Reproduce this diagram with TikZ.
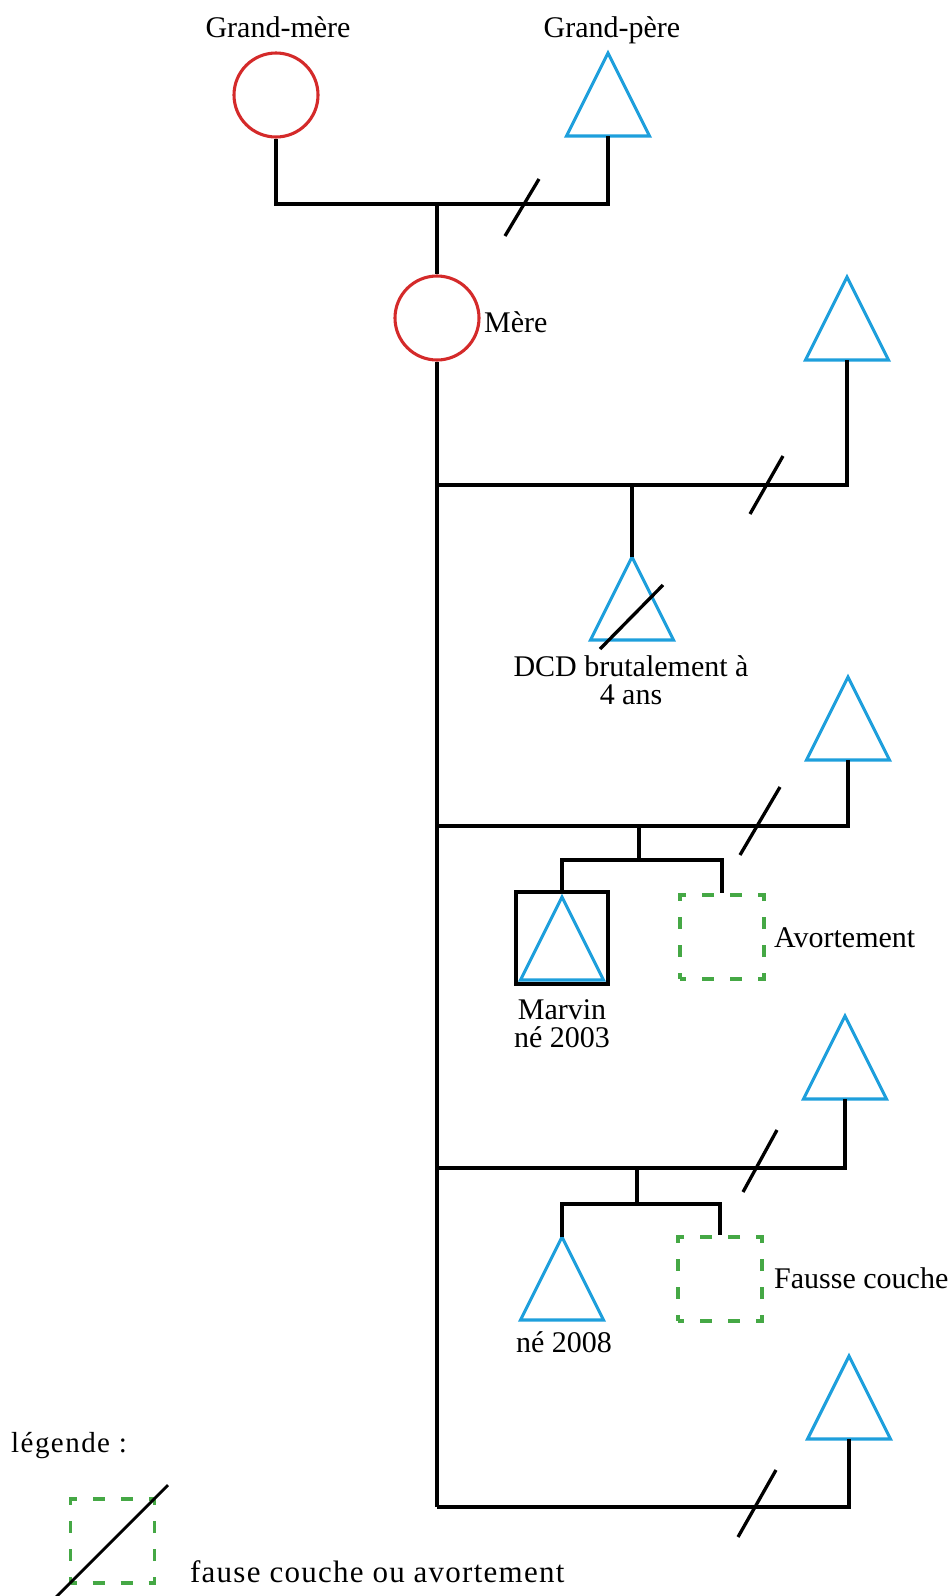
\documentclass[tikz,border=0pt]{standalone}
\usepackage{fontspec}
\setmainfont{Liberation Serif}
\newfontfamily\legendfont[LetterSpace=5]{Liberation Serif}
\newfontfamily\notefont[LetterSpace=4]{Liberation Serif}
\usepackage{xcolor}
\usepackage{tikz}
\usetikzlibrary{shapes.geometric}

\definecolor{cred}{HTML}{D42A2A}
\definecolor{cblue}{HTML}{1E9FDC}
\definecolor{cgreen}{HTML}{45A845}

\tikzset{
  female/.style={draw=cred,circle,line width=3.1pt,minimum size=84pt,inner sep=0pt},
  male/.style={draw=cblue,isosceles triangle,isosceles triangle stretches,shape border rotate=90,
    minimum width=83pt,minimum height=83pt,inner sep=0pt,outer sep=0pt,line width=3.1pt},
  lost/.style={draw=cgreen,rectangle,minimum size=84pt,inner sep=0pt,line width=3.1pt,
    dash pattern=on 12pt off 16pt,dash phase=6pt},
  index/.style={draw,rectangle,minimum size=92pt,inner sep=0pt,line width=3.3pt},
  lbl/.style={font=\fontsize{30}{28}\selectfont,inner sep=0pt},
  legendtxt/.style={font=\legendfont\fontsize{29}{31}\selectfont,inner sep=0pt},
  notetxt/.style={font=\notefont\fontsize{31}{33}\selectfont,inner sep=0pt},
  link/.style={line width=3.3pt}
}

\begin{document}
\begin{tikzpicture}[x=1pt,y=-1pt]
\useasboundingbox (0,0) rectangle (948,1596);
% grand-parents
\node[female] (gm) at (276,95) {};
\node[male,anchor=apex] (gp) at (608,53) {};
\node[lbl,anchor=base] (tgm) at (278,37) {Grand-mère};
\node[lbl,anchor=base] (tgp) at (612,37) {Grand-père};
\coordinate (c0) at (437,204);
\draw[link] (gm.south) |- (c0) -| (gp.lower side);
\draw[link] (505,236) -- (539,179);
% mother
\node[female] (mere) at (437,318) {};
\node[lbl,anchor=base west] (tmere) at (484,332) {Mère};
\draw[link] (c0) -- (mere.north);
\coordinate (m1) at (437,485);
\coordinate (m2) at (437,826);
\coordinate (m3) at (437,1168);
\coordinate (m4) at (437,1507);
\draw[link] (mere.south) -- (m4);
% partner 1
\node[male,anchor=apex] (p1) at (847,277) {};
\draw[link] (m1) -| (p1.lower side);
\draw[link] (750,514) -- (783,456);
\node[male,anchor=apex] (dcd) at (632,557) {};
\draw[link] (dcd.apex |- m1) -- (dcd.apex);
\draw[link] (600,649) -- (663,585);
\node[lbl,align=center,anchor=base] (tdcd) at (631,704) {DCD brutalement à\\4 ans};
% partner 2
\node[male,anchor=apex] (p2) at (848,677) {};
\draw[link] (m2) -| (p2.lower side);
\draw[link] (740,855) -- (780,787);
\coordinate (s2) at (639,860);
\draw[link] (s2 |- m2) -- (s2);
\node[index] (marvin) at (562,938) {};
\node[male,anchor=apex] (marvintri) at (562,897) {};
\node[lost] (avort) at (722,937) {};
\draw[link] (marvin.north) |- (s2) -| (avort.north);
\node[lbl,align=center,anchor=base] (tmarvin) at (562,1047) {Marvin\\né 2003};
\node[lbl,anchor=base west] (tavort) at (774,947) {Avortement};
% partner 3
\node[male,anchor=apex] (p3) at (845,1016) {};
\draw[link] (m3) -| (p3.lower side);
\draw[link] (743,1192) -- (777,1130);
\coordinate (s3) at (637,1204);
\draw[link] (s3 |- m3) -- (s3);
\node[male,anchor=apex] (ne08) at (562,1237) {};
\node[lost] (fc) at (720,1279) {};
\draw[link] (ne08.apex) |- (s3) -| (fc.north);
\node[lbl,anchor=base] (tne08) at (564,1352) {né 2008};
\node[lbl,anchor=base west] (tfc) at (774,1288) {Fausse couche};
% partner 4
\node[male,anchor=apex] (p4) at (849,1356) {};
\draw[link] (m4) -| (p4.lower side);
\draw[link] (738,1537) -- (776,1470);
% legend
\node[legendtxt,anchor=base west] (tleg) at (11,1452) {légende :};
\node[lost] (legbox) at (112.5,1541) {};
\draw[line width=2.8pt] (55,1598) -- (168,1485);
\node[notetxt,anchor=base west] (tlegbox) at (190,1582) {fause couche ou avortement};
\end{tikzpicture}
\end{document}
